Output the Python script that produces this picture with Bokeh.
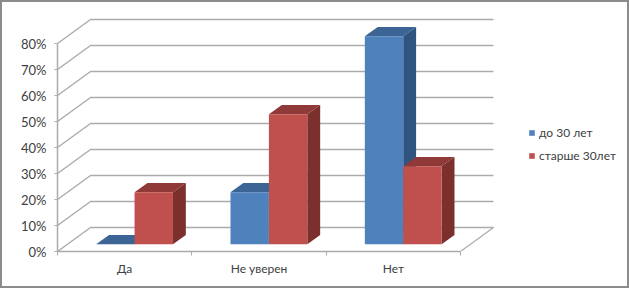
from bokeh.embed import file_html
from bokeh.resources import INLINE
from bokeh.plotting import figure
from bokeh.models import Range1d, FixedTicker, PrintfTickFormatter, Legend, LegendItem, LinearAxis, InlineStyleSheet
import numpy as np

categories = ["Да", "Не уверен", "Нет"]
series_names = ["до 30 лет", "старше 30лет"]
young = [0, 20, 80]
older = [20, 50, 30]
y_ticks = [0, 10, 20, 30, 40, 50, 60, 70, 80]

FONT = "Lato"
GRID = "#ababab"
TEXT = "#404040"
W, H = 629, 288
LEFT, BASE = 57, 251
UX, UY = 134.33, 2.6            # px per category, px per percent
DX, DY = 33 / UX, 24 / UY       # wall depth in data units
BAR_W = 38.4 / UX
BAR_D0, BAR_D1 = 0.30, 0.69     # bar start / end along depth

p = figure(width=W, height=H, output_backend="svg", toolbar_location=None,
           x_range=Range1d(0, (W - LEFT) / UX), y_range=Range1d(0, BASE / UY),
           x_axis_location=None, y_axis_location=None,
           min_border_left=LEFT, min_border_right=0, min_border_top=0, min_border_bottom=H - BASE,
           outline_line_color=None, background_fill_color="white", border_fill_color="white")
p.styles = {"position": "absolute", "left": "0", "top": "0"}
# outer picture frame
p.stylesheets = [InlineStyleSheet(css=":host::after{content:'';position:absolute;left:0;top:0;right:0;bottom:0;"
                                      "box-sizing:border-box;border:2px solid #8c8c8c;pointer-events:none;z-index:100;}")]
p.grid.visible = False

# walls: slanted floor/side gridlines and back-wall gridlines
n = len(categories)
xs, ys = [], []
for t in y_ticks:
    xs.append([0, DX, n + DX])
    ys.append([t, t + DY, t + DY])
p.multi_line(xs, ys, line_color=GRID, line_width=1.4)
p.line([n, n + DX], [0, DY], line_color=GRID, line_width=1.2)

def draw(values, offset, front, top, side):
    x0 = np.arange(n) + 0.5 + BAR_D0 * DX - BAR_W + offset * BAR_W
    x1 = x0 + BAR_W
    b = BAR_D0 * DY
    dx, dy = (BAR_D1 - BAR_D0) * DX, (BAR_D1 - BAR_D0) * DY
    v = np.array(values, dtype=float) + b
    p.patches([[a, a + dx, c + dx, c] for a, c in zip(x0, x1)],
              [[t, t + dy, t + dy, t] for t in v], fill_color=top, line_color=None)
    p.patches([[c, c + dx, c + dx, c] for c in x1],
              [[b, b + dy, t + dy, t] for t in v], fill_color=side, line_color=None)
    return p.quad(left=x0, right=x1, bottom=b, top=v, fill_color=front, line_color=None)

r_young = draw(young, 0, "#4f81bd", "#3c6494", "#2f5480")
r_older = draw(older, 1, "#c0504d", "#8f3a38", "#7b302e")

yaxis = LinearAxis(bounds=(0, 80), ticker=FixedTicker(ticks=y_ticks),
                   formatter=PrintfTickFormatter(format="%d%%"),
                   axis_line_color=GRID, axis_line_width=1.5,
                   major_tick_line_color=GRID, major_tick_out=3, major_tick_in=0,
                   minor_tick_line_color=None, major_label_standoff=8,
                   major_label_text_font=FONT, major_label_text_font_size="13px",
                   major_label_text_color=TEXT)
p.add_layout(yaxis, "left")

centers = [i + 0.5 for i in range(n)]
xaxis = LinearAxis(bounds=(0, n), ticker=FixedTicker(ticks=centers, minor_ticks=list(range(n + 1))),
                   major_label_overrides={c: l for c, l in zip(centers, categories)},
                   axis_line_color=GRID, axis_line_width=1.5,
                   major_tick_line_color=None, minor_tick_line_color=GRID,
                   minor_tick_out=4, minor_tick_in=0, major_label_standoff=3,
                   major_label_text_font=FONT, major_label_text_font_size="12px",
                   major_label_text_color=TEXT)
p.add_layout(xaxis, "below")

legend = Legend(items=[LegendItem(label=series_names[0], renderers=[r_young]),
                       LegendItem(label=series_names[1], renderers=[r_older])],
                location=(471, 88), orientation="vertical", margin=0, padding=0,
                glyph_width=7, glyph_height=7, label_standoff=4, spacing=7,
                border_line_color=None, background_fill_alpha=0,
                label_text_font=FONT, label_text_font_size="12px", label_text_color=TEXT,
                label_height=16)
p.add_layout(legend, "center")

open("out.html", "w").write(file_html(p, INLINE))
